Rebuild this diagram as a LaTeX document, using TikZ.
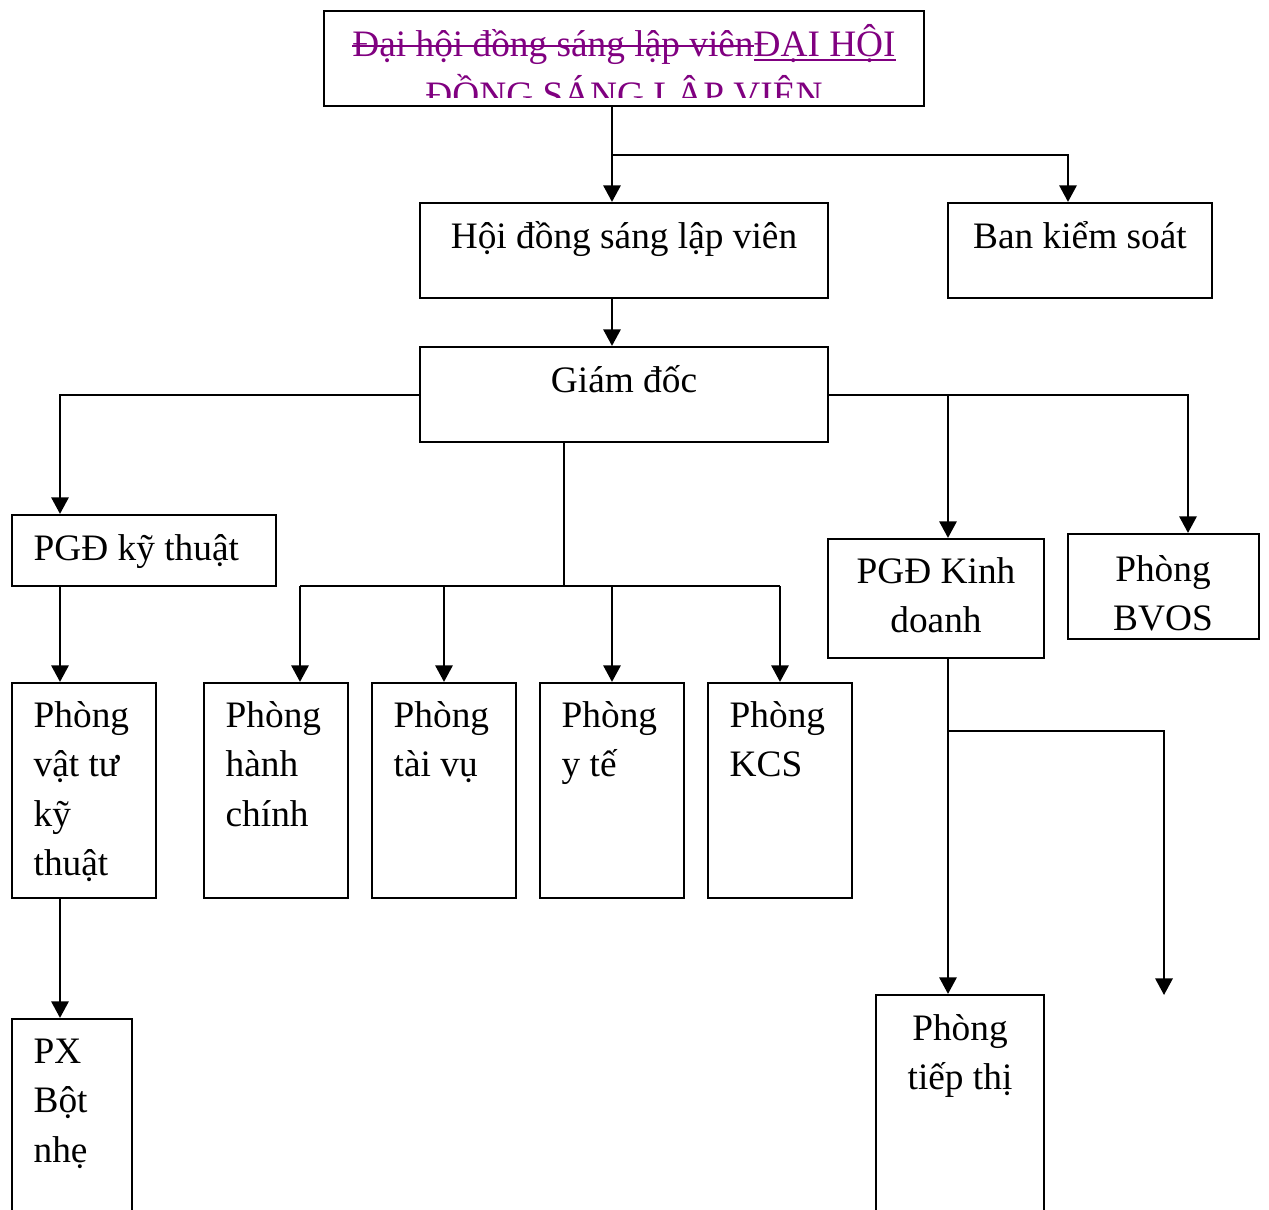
\documentclass[tikz,border=0pt]{standalone}
\usepackage{fontspec}
\setmainfont{Liberation Serif}
\usetikzlibrary{arrows.meta}
\definecolor{wordpurple}{HTML}{800080}
\newdimen\pxu
\pxu=0.3pt
\newsavebox\wordbox
% struck-through and underlined runs of text
\newcommand\strikeword[1]{\sbox\wordbox{#1}\rlap{\rule[0.24em]{\wd\wordbox}{0.55pt}}\usebox\wordbox}
\newcommand\underword[1]{\sbox\wordbox{#1}\rlap{\rule[-0.13em]{\wd\wordbox}{0.55pt}}\usebox\wordbox}
\newcommand\linesL[1]{\begin{tabular}[t]{@{}l@{}}#1\end{tabular}}
\newcommand\linesC[1]{\begin{tabular}[t]{@{}c@{}}#1\end{tabular}}
\begin{document}
\begin{tikzpicture}[x=0.3pt, y=-0.3pt,
  box/.style={draw, line width=0.65pt, inner sep=0pt, rectangle},
  lbl/.style={inner sep=0pt, font=\fontsize{11.2}{14.85}\selectfont},
  link/.style={line width=0.7pt},
  arr/.style={line width=0.7pt, -{Triangle[length=5pt,width=5.2pt]}}]
\useasboundingbox (0,0) rectangle (1269,1209);
\clip (0,0) rectangle (1269,1209);

% boxes
\node[box, minimum width=600\pxu, minimum height=95\pxu] (top) at (624,58.5) {};
\node[box, minimum width=408\pxu, minimum height=95\pxu] (hd) at (624,250.5) {};
\node[box, minimum width=264\pxu, minimum height=95\pxu] (bks) at (1080,250.5) {};
\node[box, minimum width=408\pxu, minimum height=95\pxu] (gd) at (624,394.5) {};
\node[box, minimum width=264\pxu, minimum height=71\pxu] (pgdkt) at (144,550.5) {};
\node[box, minimum width=144\pxu, minimum height=215\pxu] (pvt) at (84,790.5) {};
\node[box, minimum width=144\pxu, minimum height=215\pxu] (phc) at (276,790.5) {};
\node[box, minimum width=144\pxu, minimum height=215\pxu] (ptv) at (444,790.5) {};
\node[box, minimum width=144\pxu, minimum height=215\pxu] (pyt) at (612,790.5) {};
\node[box, minimum width=144\pxu, minimum height=215\pxu] (kcs) at (780,790.5) {};
\node[box, minimum width=216\pxu, minimum height=119\pxu] (pgdkd) at (936,598.5) {};
\node[box, minimum width=191\pxu, minimum height=105\pxu] (bvos) at (1163.5,586.5) {};
\node[box, minimum width=120\pxu, minimum height=231\pxu] (px) at (72,1134.5) {};
\node[box, minimum width=168\pxu, minimum height=255\pxu] (ptt) at (960,1122.5) {};

% title text, clipped by the frame's inner margin
\begin{scope}
\clip (324,11) rectangle (924,97);
\node[inner sep=0pt, anchor=base, text=wordpurple,
      font=\fontsize{11.2}{15.4}\selectfont] (top-t) at (624,56)
  {\linesC{\strikeword{Đại hội đồng sáng lập viên}\underword{ĐẠI HỘI}\\ĐỒNG SÁNG LẬP VIÊN}};
\end{scope}

% labels
\node[lbl, anchor=base] (hd-t) at (624,248) {Hội đồng sáng lập viên};
\node[lbl, anchor=base] (bks-t) at (1080,248) {Ban kiểm soát};
\node[lbl, anchor=base] (gd-t) at (624,392) {Giám đốc};
\node[lbl, anchor=base west] (pgdkt-t) at (33,560) {PGĐ kỹ thuật};
\node[lbl, anchor=base west] (pvt-t) at (33,727) {\linesL{Phòng\\vật tư\\kỹ\\thuật}};
\node[lbl, anchor=base west] (phc-t) at (225,727) {\linesL{Phòng\\hành\\chính}};
\node[lbl, anchor=base west] (ptv-t) at (393,727) {\linesL{Phòng\\tài vụ}};
\node[lbl, anchor=base west] (pyt-t) at (561,727) {\linesL{Phòng\\y tế}};
\node[lbl, anchor=base west] (kcs-t) at (729,727) {\linesL{Phòng\\KCS}};
\node[lbl, anchor=base] (pgdkd-t) at (936,583) {\linesC{PGĐ Kinh\\doanh}};
\node[lbl, anchor=base] (bvos-t) at (1163,581) {\linesC{Phòng\\BVOS}};
\node[lbl, anchor=base west] (px-t) at (33,1063) {\linesL{PX\\Bột\\nhẹ}};
\node[lbl, anchor=base] (ptt-t) at (960,1040) {\linesC{Phòng\\tiếp thị}};

% junction points
\coordinate (j1) at (612,155);
\coordinate (jb) at (1068,155);
\coordinate (j2) at (612,320);
\coordinate (jL) at (60,395);
\coordinate (jm) at (564,586);
\coordinate (ja) at (300,586);
\coordinate (jc) at (444,586);
\coordinate (jd) at (612,586);
\coordinate (je) at (780,586);
\coordinate (jr1) at (948,395);
\coordinate (jr2) at (1188,395);
\coordinate (jk) at (948,731);
\coordinate (jk2) at (1164,731);
\coordinate (free) at (1164,995);

% connectors
\draw[arr] (j1 |- top.south) -- (j1 |- hd.north);
\draw[arr] (j1) -- (jb) -- (jb |- bks.north);
\draw[arr] (j2 |- hd.south) -- (j2 |- gd.north);
\draw[arr] (gd.west |- jL) -- (jL) -- (jL |- pgdkt.north);
\draw[link] (jm |- gd.south) -- (jm);
\draw[link] (ja) -- (je);
\draw[arr] (ja) -- (ja |- phc.north);
\draw[arr] (jc) -- (jc |- ptv.north);
\draw[arr] (jd) -- (jd |- pyt.north);
\draw[arr] (je) -- (je |- kcs.north);
\draw[arr] (gd.east |- jr2) -- (jr2) -- (jr2 |- bvos.north);
\draw[arr] (jr1) -- (jr1 |- pgdkd.north);
\draw[arr] (jL |- pgdkt.south) -- (jL |- pvt.north);
\draw[arr] (jL |- pvt.south) -- (jL |- px.north);
\draw[arr] (jr1 |- pgdkd.south) -- (jr1 |- ptt.north);
\draw[arr] (jk) -- (jk2) -- (free);
\end{tikzpicture}
\end{document}
